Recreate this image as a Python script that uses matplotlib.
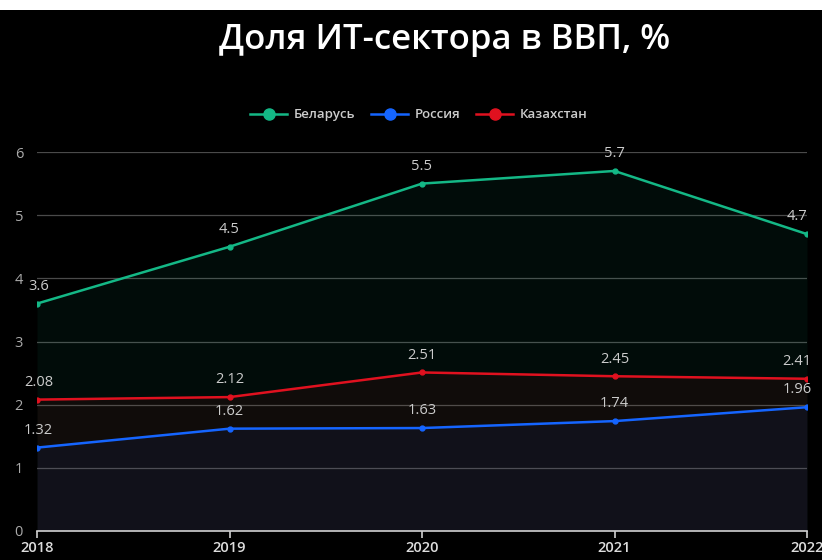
import matplotlib.pyplot as plt
from matplotlib.patches import Rectangle
from matplotlib.lines import Line2D

plt.rcParams['font.family'] = ['Open Sans', 'DejaVu Sans']

years = [2018, 2019, 2020, 2021, 2022]
belarus = [3.6, 4.5, 5.5, 5.7, 4.7]
russia = [1.32, 1.62, 1.63, 1.74, 1.96]
kazakh = [2.08, 2.12, 2.51, 2.45, 2.41]
names = ['Беларусь', 'Россия', 'Казахстан']
colors = ['#14b886', '#1565ff', '#e0111f']

fig = plt.figure(figsize=(8.22, 5.6), dpi=100, facecolor='black')
# white strip along the top edge
fig.patches.append(Rectangle((0, 1 - 10 / 560), 1, 10 / 560, transform=fig.transFigure,
                             facecolor='white', edgecolor='none', zorder=0))

ax = fig.add_axes([37 / 822, 1 - 531 / 560, 770 / 822, 379 / 560])
ax.set_facecolor('black')

series = [belarus, russia, kazakh]
for vals, c in zip(series, colors):
    ax.fill_between(years, vals, 0, color=c, alpha=0.07, lw=0, zorder=1)
    ax.plot(years, vals, color=c, lw=1.8, marker='o', ms=3.5, zorder=3)
    for i, (x, y) in enumerate(zip(years, vals)):
        dx = 1 if i == 0 else (-7 if i == len(years) - 1 else 0)
        ax.annotate(f'{y:g}', (x, y), xytext=(dx, 7), textcoords='offset points',
                    ha='center', va='bottom', color='#cccccc', fontsize=10.5, zorder=4)

ax.set_xlim(2018, 2022)
ax.set_ylim(0, 6)
ax.set_xticks(years)
ax.set_xticklabels([str(y) for y in years])
ax.set_yticks(range(0, 7))
ax.grid(axis='y', color='#4a4a4a', lw=0.9)
ax.set_axisbelow(True)
for s in ['top', 'right', 'left']:
    ax.spines[s].set_visible(False)
ax.spines['bottom'].set_color('#d0d0d0')
ax.spines['bottom'].set_linewidth(1.2)
ax.spines['bottom'].set_zorder(5)
ax.tick_params(axis='x', colors='#d0d0d0', labelcolor='#dddddd', length=5, width=1.2,
               labelsize=10.5, pad=2)
ax.tick_params(axis='y', length=0, labelcolor='#aaaaaa', labelsize=10.5, pad=10)
for lbl in ax.get_xticklabels():
    lbl.set_fontweight('semibold')

fig.text(445 / 822, 1 - 40 / 560, 'Доля ИТ-сектора в ВВП, %', color='white',
         fontsize=25, fontweight='semibold', ha='center', va='center')

handles = [Line2D([0], [0], color=c, lw=1.8, marker='o', ms=8) for c in colors]
leg = fig.legend(handles, names, loc='center', bbox_to_anchor=(419 / 822, 1 - 115 / 560),
                 ncol=3, frameon=False, fontsize=9.5, labelcolor='#cccccc',
                 handlelength=2.8, columnspacing=1.2, handletextpad=0.5)
for t in leg.get_texts():
    t.set_fontweight('semibold')

fig.savefig('out.png', dpi=100, facecolor=fig.get_facecolor())
